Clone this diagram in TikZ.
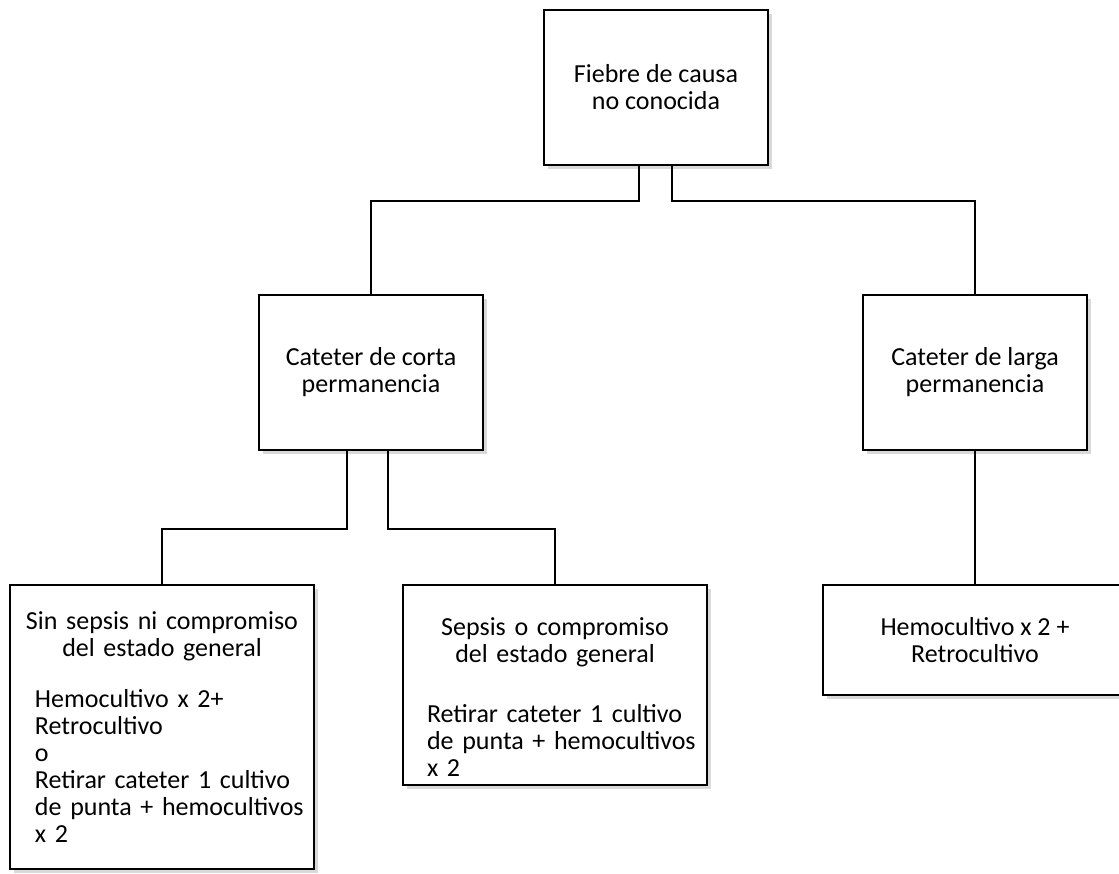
\documentclass[tikz,border=0pt]{standalone}
\usepackage{fontspec}
\setmainfont{Carlito}
\usetikzlibrary{positioning,shadows,calc}

\begin{document}
\begin{tikzpicture}[
    x=1pt, y=-1pt,
    box/.style={rectangle, draw, line width=2pt, fill=white, inner sep=0pt,
        minimum width=224pt, minimum height=155pt, align=center,
        font=\fontsize{26}{27}\selectfont,
        drop shadow={shadow xshift=4pt, shadow yshift=-4pt, opacity=0.25, fill=black!60}},
    wide/.style={box, minimum width=304pt, text width=300pt, align=left},
    link/.style={line width=2pt, line join=miter}
]
    \useasboundingbox (0,0) rectangle (1119,873);
    \clip (0,0) rectangle (1119,873);

    \node[box] (fiebre) at (656,87.5) {Fiebre de causa\\no conocida};
    \node[box] (corta) at (371,372.5) {Cateter de corta\\permanencia};
    \node[box] (larga) at (975,372.5) {Cateter de larga\\permanencia};

    \node[wide, minimum height=284pt] (sin) at (162,727) {%
        {\centering Sin sepsis ni compromiso\\del estado general\par}\vspace{24pt}%
        \leftskip=23pt
        Hemocultivo x 2+\\Retrocultivo\\o\\Retirar cateter 1 cultivo\\de punta + hemocultivos\\x 2\par};
    \node[wide, minimum height=200pt] (sepsis) at (555,685) {%
        {\centering\rule{0pt}{41pt}Sepsis o compromiso\\del estado general\par}\vspace{33pt}%
        \leftskip=22pt
        Retirar cateter 1 cultivo\\de punta + hemocultivos\\x 2\par};
    \node[box, minimum width=304pt, minimum height=110pt] (hemo) at (975,640) {Hemocultivo x 2 +\\Retrocultivo};

    % conectores
    \draw[link] ([xshift=-17pt]fiebre.south) -- ++(0,35) -| (corta.north);
    \draw[link] ([xshift=16pt]fiebre.south) -- ++(0,35) -| (larga.north);
    \draw[link] ([xshift=-24pt]corta.south) -- ++(0,78) -| (sin.north);
    \draw[link] ([xshift=17pt]corta.south) -- ++(0,78) -| (sepsis.north);
    \draw[link] (larga.south) -- (hemo.north);
\end{tikzpicture}
\end{document}
